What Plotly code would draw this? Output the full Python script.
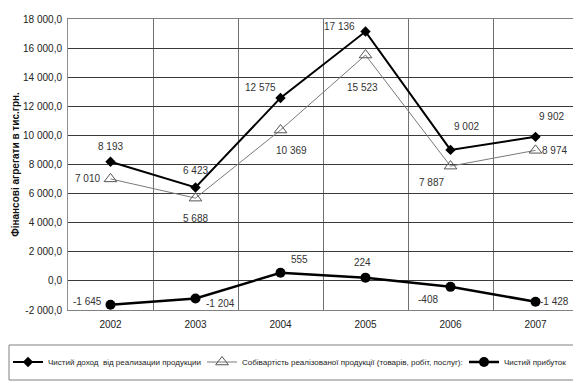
import plotly.graph_objects as go

years = ["2002", "2003", "2004", "2005", "2006", "2007"]
revenue = [8193, 6423, 12575, 17136, 9002, 9902]
cost = [7010, 5688, 10369, 15523, 7887, 8974]
profit = [-1645, -1204, 555, 224, -408, -1428]

name_rev = "Чистий доход  від реализации продукции"
name_cost = "Собівартість реалізованої продукції (товарів, робіт, послуг):"
name_prof = "Чистий прибуток"

y_tickvals = [-2000, 0, 2000, 4000, 6000, 8000, 10000, 12000, 14000, 16000, 18000]
y_ticktext = ["-2 000,0", "0,0", "2 000,0", "4 000,0", "6 000,0", "8 000,0",
              "10 000,0", "12 000,0", "14 000,0", "16 000,0", "18 000,0"]
y_title = "Фінансові агрегати в тис.грн."

# label offsets (px) for each series
rev_shift = [(0, 15), (0, 17), (-20, 10), (-26, 5), (16, 23), (16, 20)]
cost_shift = [(-23, 0), (0, -20), (11, -20), (-3, -32), (-19, -16), (19, 0)]
prof_shift = [(-23, 3), (25, -5), (19, 13), (-3, 15), (-23, -13), (19, 0)]

# the page body has an 8px default margin; compensate by working in figure px
OFF = 8
W, H = 581 - OFF, 383 - OFF
L = 68 - OFF
T = 19 - OFF
R = W - (578 - OFF)
B = H - (310 - OFF)
pw = W - L - R
ph = H - T - B


def px_x(p):  # page pixel -> paper x
    return (p - OFF - L) / pw


def px_y(p):  # page pixel -> paper y
    return (H - B - (p - OFF)) / ph


def cx(p):  # figure pixel -> container x
    return p / W


def cy(p):  # page pixel -> container y
    return (H - (p - OFF)) / H


def fmt(v):
    s = f"{abs(v):,}".replace(",", " ")
    return ("-" if v < 0 else "") + s


fig = go.Figure()
fig.add_trace(go.Scatter(
    x=years, y=revenue, name=name_rev, mode="lines+markers",
    line=dict(color="black", width=2),
    marker=dict(symbol="diamond", size=8, color="black"),
    legend="legend2"))
fig.add_trace(go.Scatter(
    x=years, y=cost, name=name_cost, mode="lines+markers",
    line=dict(color="#7a7a7a", width=1),
    marker=dict(symbol="triangle-up-open", size=11, color="#555555",
                line=dict(width=1)),
    legend="legend3"))
fig.add_trace(go.Scatter(
    x=years, y=profit, name=name_prof, mode="lines+markers",
    line=dict(color="black", width=2.5),
    marker=dict(symbol="circle", size=10, color="black"),
    legend="legend4"))

annots = []
for series, shifts in ((revenue, rev_shift), (cost, cost_shift), (profit, prof_shift)):
    for i, (v, (dx, dy)) in enumerate(zip(series, shifts)):
        annots.append(dict(x=i, y=v, text=fmt(v), showarrow=False,
                           xshift=dx, yshift=dy,
                           font=dict(family="Liberation Sans, Arial", size=10,
                                     color="#333333")))

leg_common = dict(orientation="h", yanchor="middle", xanchor="left",
                  xref="container", yref="container",
                  bgcolor="rgba(0,0,0,0)", borderwidth=0,
                  font=dict(family="Liberation Sans, Arial", size=8, color="#222222"))

fig.update_layout(
    width=W, height=H,
    margin=dict(l=L, r=R, t=T, b=B, autoexpand=False),
    paper_bgcolor="white", plot_bgcolor="white",
    font=dict(family="Liberation Sans, Arial", size=10, color="#222222"),
    annotations=annots,
    showlegend=True,
    legend2=dict(x=cx(0), y=cy(362), **leg_common),
    legend3=dict(x=cx(194), y=cy(362), **leg_common),
    legend4=dict(x=cx(456), y=cy(362), **leg_common),
    shapes=[dict(type="rect", xref="paper", yref="paper",
                 x0=px_x(9), x1=px_x(577), y0=px_y(380), y1=px_y(345),
                 line=dict(color="#808080", width=1))],
    xaxis=dict(type="category", range=[-0.5, 5.5], tickson="boundaries",
               showgrid=True, gridcolor="#707070", gridwidth=1, ticks="",
               showline=True, linecolor="#808080", mirror=True, automargin=False,
               ticklabelstandoff=5,
               tickfont=dict(size=10, color="#222222")),
    yaxis=dict(range=[-2000, 18000], tickvals=y_tickvals, ticktext=y_ticktext,
               showgrid=True, gridcolor="#3a3a3a", gridwidth=1, zeroline=False,
               showline=True, linecolor="#909090", mirror=True, ticks="",
               automargin=False, ticklabelstandoff=3,
               tickfont=dict(size=10, color="#222222"),
               title=dict(text="<b>" + y_title + "</b>", standoff=1,
                          font=dict(size=10, color="#111111"))),
)

fig.write_html("out.html")
